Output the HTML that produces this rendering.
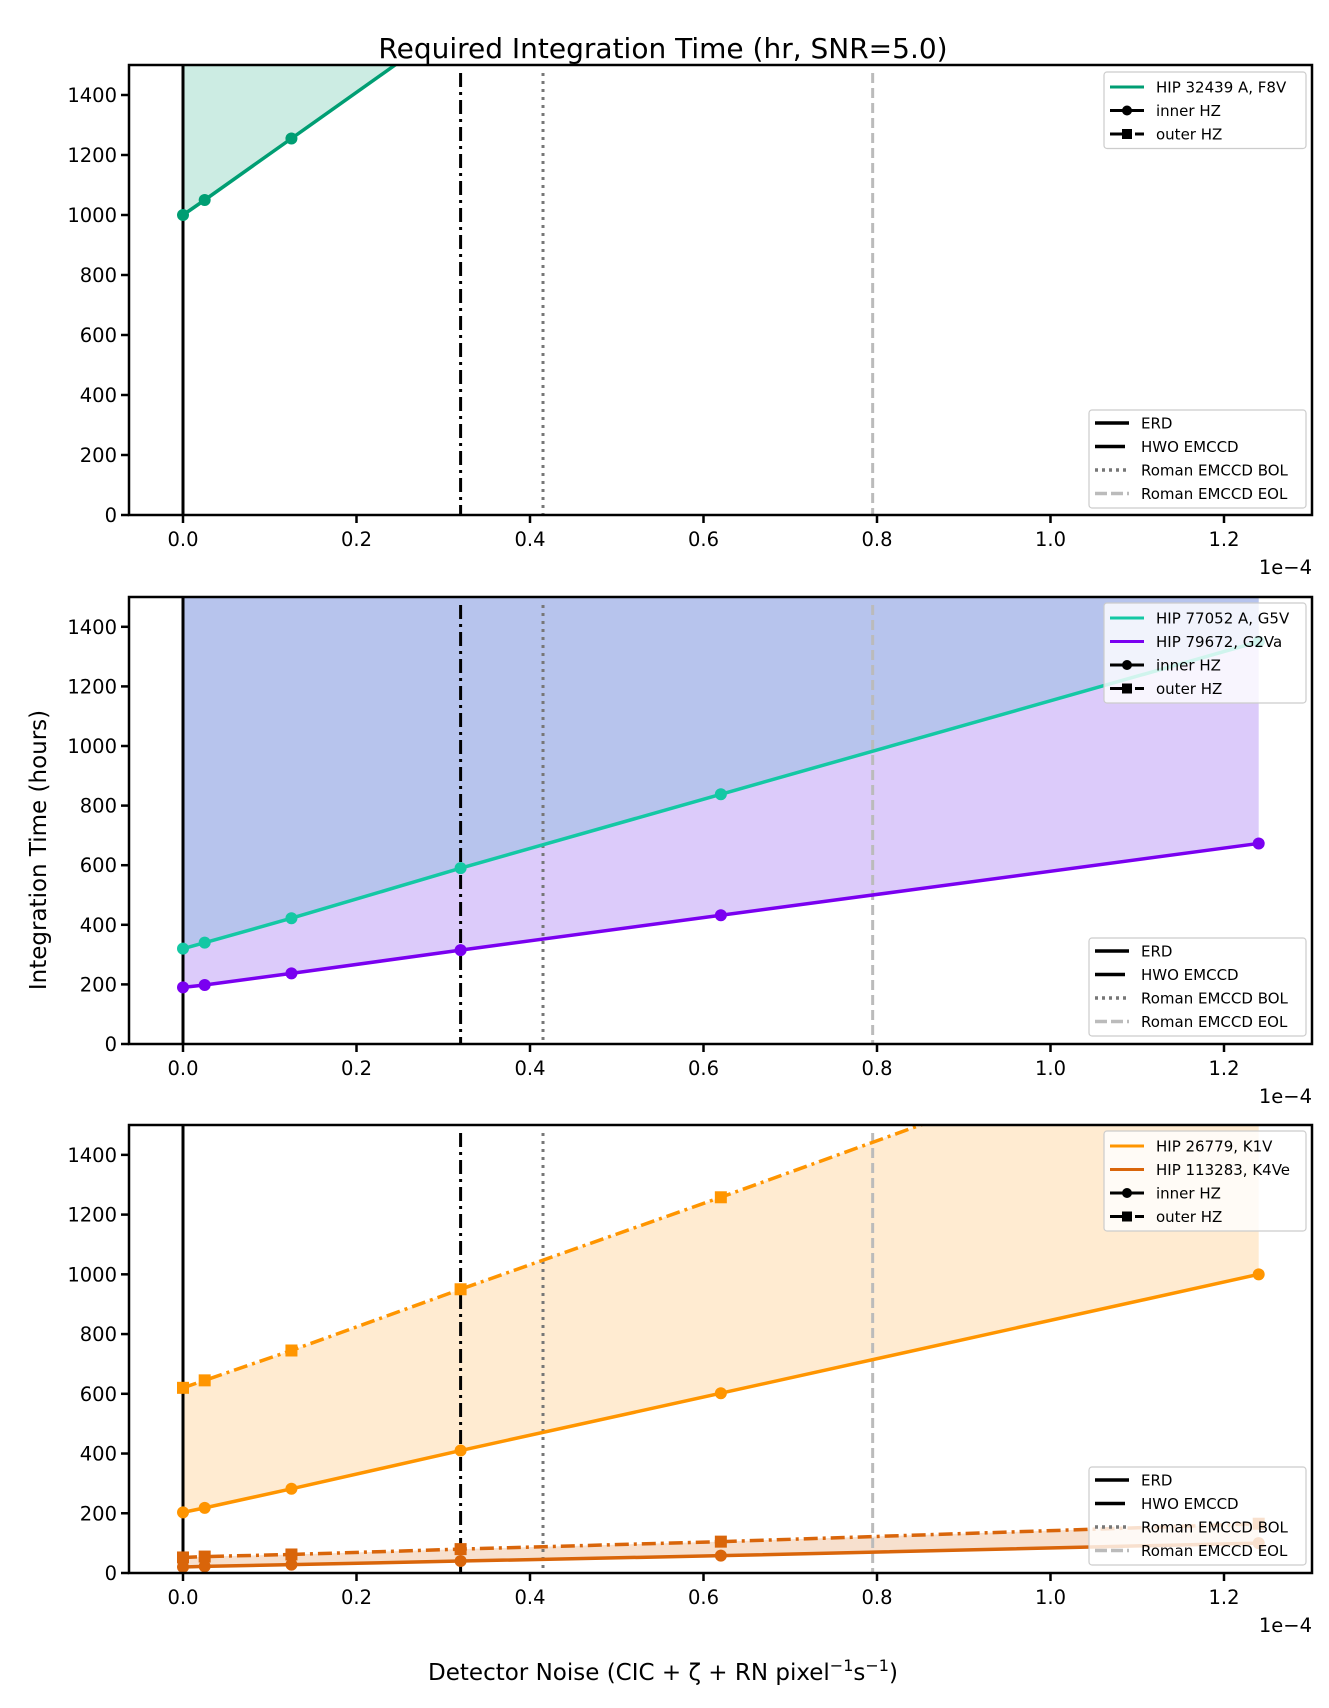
<!DOCTYPE html>
<html><head><meta charset="utf-8"><style>
body{margin:0;background:#fff}
svg{display:block;font-family:"DejaVu Sans","Liberation Sans",sans-serif}
</style></head><body>
<svg id="chart" width="1329" height="1708" viewBox="0 0 1329 1708">
<text x="663" y="58" font-size="28" text-anchor="middle">Required Integration Time (hr, SNR=5.0)</text>
<text transform="translate(46,850) rotate(-90)" font-size="23" text-anchor="middle">Integration Time (hours)</text>
<text x="663" y="1680" font-size="23" text-anchor="middle">Detector Noise (CIC + ζ + RN pixel<tspan dy="-9" font-size="16">−1</tspan><tspan dy="9">s</tspan><tspan dy="-9" font-size="16">−1</tspan><tspan dy="9">)</tspan></text>
</svg>
<script>
const xValues = [0, 0.025, 0.125, 0.32, 0.62, 1.24];
const xTicks = [0, 0.2, 0.4, 0.6, 0.8, 1.0, 1.2];
const xTickLabels = ["0.0","0.2","0.4","0.6","0.8","1.0","1.2"];
const yTicks = [0, 200, 400, 600, 800, 1000, 1200, 1400];
const detectorLines = [0, 0.32, 0.415, 0.795];
const detectorNames = ["ERD","HWO EMCCD","Roman EMCCD BOL","Roman EMCCD EOL"];
const hip32439Inner = [1000, 1050, 1255, 1655, 2270, 3540];
const hip32439Outer = [3000, 3150, 3750, 4900, 6700, 10400];
const hip77052Inner = [320, 340, 422, 590, 838, 1350];
const hip77052Outer = [1700, 1800, 2200, 3000, 4200, 6600];
const hip79672Inner = [190, 198, 237, 315, 432, 673];
const hip79672Outer = [1600, 1650, 1900, 2450, 3300, 5000];
const hip26779Inner = [203, 218, 282, 410, 602, 1000];
const hip26779Outer = [620, 645, 745, 950, 1258, 1910];
const hip113283Inner = [20, 22, 28, 40, 58, 100];
const hip113283Outer = [52, 55, 62, 80, 105, 165];

const NS="http://www.w3.org/2000/svg";
const svg=document.getElementById('chart');
function mk(tag,attrs,parent){const e=document.createElementNS(NS,tag);for(const k in attrs)e.setAttribute(k,attrs[k]);(parent||svg).appendChild(e);return e;}
const L=129,R=1312,X0=183,PX=867.5;
function xs(v){return X0+v*PX;}

const panels=[
 {top:65,bot:515,name:'panel-1',stars:[{name:'HIP 32439 A, F8V',color:'#009e73',fill:'#009e73',op:0.2,inner:hip32439Inner,outer:hip32439Outer,showOuter:false,key:'hip-32439'}],leg1:[1104,72],leg2:[1089,410]},
 {top:597,bot:1044,name:'panel-2',stars:[{name:'HIP 79672, G2Va',color:'#7a00f0',fill:'#8a52ee',op:0.3,inner:hip79672Inner,outer:hip79672Outer,showOuter:false,key:'hip-79672'},{name:'HIP 77052 A, G5V',color:'#14c8a4',fill:'#64b7d2',op:0.3,inner:hip77052Inner,outer:hip77052Outer,showOuter:false,key:'hip-77052'}],legOrder:[1,0],leg1:[1104,603],leg2:[1089,938]},
 {top:1125,bot:1573,name:'panel-3',stars:[{name:'HIP 26779, K1V',color:'#ff9500',fill:'#fd9d1a',op:0.2,inner:hip26779Inner,outer:hip26779Outer,showOuter:true,key:'hip-26779'},{name:'HIP 113283, K4Ve',color:'#d9650a',fill:'#d9650a',op:0.2,inner:hip113283Inner,outer:hip113283Outer,showOuter:true,key:'hip-113283'}],leg1:[1104,1131],leg2:[1089,1467]}
];

panels.forEach((p,pi)=>{
 const ys=v=>p.bot-v/1500*(p.bot-p.top);
 const g=mk('g',{});
 
 
 const cid='clip'+pi;
 const cp=mk('clipPath',{id:cid},g);mk('rect',{x:L,y:p.top,width:R-L,height:p.bot-p.top},cp);
 const pg=mk('g',{'clip-path':'url(#'+cid+')'},g);
 p.stars.forEach(s=>{
  let d='M'+xValues.map((x,i)=>xs(x)+','+ys(s.inner[i])).join(' L');
  for(let i=xValues.length-1;i>=0;i--)d+=' L'+xs(xValues[i])+','+ys(s.outer[i]);
  const f=mk('path',{d:d+'Z',fill:s.fill,'fill-opacity':s.op},pg);
  
  
 });
 const styles=[{c:'#000',da:'',w:3},{c:'#000',da:'14,5,3,5',w:3},{c:'#777',da:'3,5',w:3},{c:'#bbb',da:'10,5',w:3}];
 detectorLines.forEach((v,i)=>{
  const ln=mk('line',{x1:xs(v),x2:xs(v),y1:i==0?p.top:p.top+8,y2:p.bot,stroke:styles[i].c,'stroke-width':styles[i].w,'stroke-dasharray':styles[i].da},pg);
  
  
 });
 p.stars.forEach(s=>{
  const series=[{vals:s.inner,da:'',m:'c',n:'inner'}];
  if(s.showOuter)series.push({vals:s.outer,da:'14,5,3,5',m:'s',n:'outer'});
  series.forEach(se=>{
   const pl=mk('polyline',{points:xValues.map((x,i)=>xs(x)+','+ys(se.vals[i])).join(' '),fill:'none',stroke:s.color,'stroke-width':3.5,'stroke-dasharray':se.da},pg);
   
   
   xValues.forEach((x,i)=>{
    let m;
    if(se.m=='c')m=mk('circle',{cx:xs(x),cy:ys(se.vals[i]),r:6,fill:s.color},pg);
    else m=mk('rect',{x:xs(x)-6,y:ys(se.vals[i])-6,width:12,height:12,fill:s.color},pg);
    
    
   });
  });
 });
 mk('rect',{x:L,y:p.top,width:R-L,height:p.bot-p.top,fill:'none',stroke:'#000','stroke-width':2.5},g);
 yTicks.forEach(t=>{
  mk('line',{x1:L-8,x2:L,y1:ys(t),y2:ys(t),stroke:'#000','stroke-width':2.5},g);
  const tx=mk('text',{x:L-12,y:ys(t)+7,'font-size':19.5,'text-anchor':'end'},g);tx.textContent=t;
  
  
 });
 xTicks.forEach((t,i)=>{
  mk('line',{x1:xs(t),x2:xs(t),y1:p.bot,y2:p.bot+8,stroke:'#000','stroke-width':2.5},g);
  const tx=mk('text',{x:xs(t),y:p.bot+31,'font-size':19.5,'text-anchor':'middle'},g);tx.textContent=xTickLabels[i];
  
  
 });
 const ex=mk('text',{x:R,y:p.bot+59,'font-size':19.5,'text-anchor':'end'},g);ex.textContent='1e−4';
 
 
 const ordered=(p.legOrder||p.stars.map((_,i)=>i)).map(i=>p.stars[i]);
 const rows=ordered.map(s=>({t:s.name,c:s.color,k:'line'})).concat([{t:'inner HZ',c:'#000',k:'c'},{t:'outer HZ',c:'#000',k:'s'}]);
 const lg=mk('g',{},g);
 
 
 let [lx,ly]=p.leg1;
 mk('rect',{x:lx,y:ly,width:R-6-lx,height:rows.length*23.5+6,rx:3,fill:'#fff','fill-opacity':0.8,stroke:'#ccc','stroke-width':1.2},lg);
 rows.forEach((r,i)=>{
  const yy=ly+15+i*23.5;
  mk('line',{x1:lx+6,x2:lx+40,y1:yy,y2:yy,stroke:r.c,'stroke-width':3,'stroke-dasharray':r.k=='s'?'14,4,3,4':''},lg);
  if(r.k=='c')mk('circle',{cx:lx+23,cy:yy,r:5,fill:'#000'},lg);
  if(r.k=='s')mk('rect',{x:lx+18,y:yy-5,width:10,height:10,fill:'#000'},lg);
  const tx=mk('text',{x:lx+52,y:yy+5.5,'font-size':15},lg);tx.textContent=r.t;
 });
 const lg2=mk('g',{},g);
 
 
 [lx,ly]=p.leg2;
 mk('rect',{x:lx,y:ly,width:R-6-lx,height:4*23.5+4,rx:3,fill:'#fff','fill-opacity':0.8,stroke:'#ccc','stroke-width':1.2},lg2);
 detectorNames.forEach((n,i)=>{
  const yy=ly+13+i*23.5;
  mk('line',{x1:lx+6,x2:lx+40,y1:yy,y2:yy,stroke:styles[i].c,'stroke-width':3.5,'stroke-dasharray':i==1?'30,4':(i==2?'3,4':(i==3?'12,4':''))},lg2);
  const tx=mk('text',{x:lx+52,y:yy+5.5,'font-size':15},lg2);tx.textContent=n;
 });
});
</script>
</body></html>
